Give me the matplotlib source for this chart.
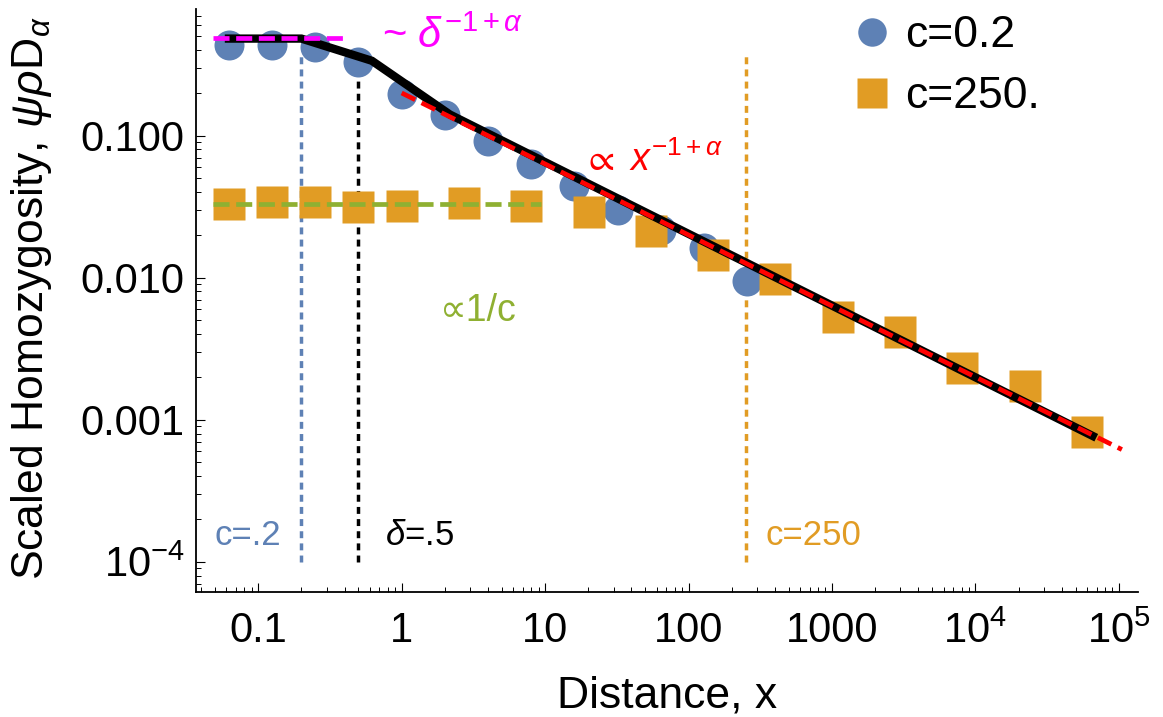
import matplotlib
matplotlib.use("Agg")
import matplotlib.pyplot as plt
from matplotlib.lines import Line2D
from matplotlib.ticker import LogLocator, NullFormatter

plt.rcParams["font.family"] = ["Liberation Sans", "DejaVu Sans"]
plt.rcParams["mathtext.fontset"] = "custom"
plt.rcParams["mathtext.rm"] = "Liberation Sans"
plt.rcParams["mathtext.it"] = "Liberation Sans:italic"
plt.rcParams["mathtext.bf"] = "Liberation Sans:bold"
plt.rcParams["mathtext.fallback"] = "stixsans"

# simulation points, c = 0.2
x_c02 = [0.0625, 0.125, 0.25, 0.5, 1, 2, 4, 8, 16, 32, 64, 128, 256]
y_c02 = [0.433, 0.433, 0.419, 0.333, 0.198, 0.141, 0.0912, 0.0635, 0.0440,
         0.0301, 0.0218, 0.0162, 0.00942]

# simulation points, c = 250
x_c250 = [0.0625, 0.125, 0.25, 0.5, 1, 2.718, 7.389, 20.09, 54.60, 148.4,
          403.4, 1096.6, 2981, 8103, 22026, 59874]
y_c250 = [0.0332, 0.0339, 0.0343, 0.0316, 0.0321, 0.0335, 0.0322, 0.0288,
          0.0214, 0.0145, 0.00982, 0.00530, 0.00418, 0.00232, 0.00172, 0.00082]

# theory curve
x_theory = [0.0625, 0.2, 0.62, 2.17, 65536]
y_theory = [0.483, 0.483, 0.337, 0.141, 0.00077]

# asymptotes
x_power = [1, 105000]
y_power = [0.2, 0.000617]
x_short = [0.048, 0.41]
y_short = [0.488, 0.488]
x_flat = [0.048, 9.3]
y_flat = [0.0332, 0.0332]

# vertical markers
v_lines = [0.2, 0.5, 250]
v_colors = ["#5E81B5", "black", "#E19C24"]
v_bottom, v_top = 1e-4, 0.39

xticks = [0.1, 1, 10, 100, 1000, 1e4, 1e5]
xticklabels = ["0.1", "1", "10", "100", "1000", "$10^4$", "$10^5$"]
yticks = [1e-4, 1e-3, 1e-2, 1e-1]
yticklabels = ["$10^{-4}$", "0.001", "0.010", "0.100"]

blue = "#5E81B5"
orange = "#E19C24"
green = "#8FB032"

fig = plt.figure(figsize=(11.63, 7.17), dpi=100)
ax = fig.add_axes([0.1685, 0.1747, 0.81, 0.8127])
ax.set_xscale("log")
ax.set_yscale("log")
ax.set_xlim(0.0368, 1.36e5)
ax.set_ylim(6.15e-5, 0.78)

for xv, col in zip(v_lines, v_colors):
    ax.plot([xv, xv], [v_bottom, v_top], color=col, lw=2.5,
            dashes=(2.0, 1.5), zorder=1)

ax.plot(x_c02, y_c02, "o", ms=21.6, color=blue, mec="none", zorder=2)
ax.plot(x_c250, y_c250, "s", ms=22.5, color=orange, mec="none", zorder=3)

ax.plot(x_theory, y_theory, color="black", lw=6.0, zorder=4,
        solid_joinstyle="miter")
ax.plot(x_power, y_power, color="red", lw=3.4, dashes=(3.2, 1.5), zorder=5)
ax.plot(x_short, y_short, color="magenta", lw=3.4, dashes=(3.4, 1.4), zorder=5)
ax.plot(x_flat, y_flat, color=green, lw=3.4, dashes=(3.4, 1.4), zorder=5)

ax.text(0.73, 0.5, r"~ $\delta^{-1+\alpha}$", color="magenta", fontsize=30,
        ha="left", va="center")
ax.text(18.0, 0.0667, r"$\propto\ x^{-1+\alpha}$", color="red", fontsize=27,
        ha="left", va="center")
ax.text(3.4, 0.00586, "∝1/c", color=green, fontsize=27,
        ha="center", va="center")
ax.text(0.0848, 1.54e-4, "c=.2", color=blue, fontsize=25,
        ha="center", va="center")
ax.text(0.764, 1.54e-4, r"$\delta$=.5", color="black", fontsize=25,
        ha="left", va="center")
ax.text(346, 1.54e-4, "c=250", color=orange, fontsize=25,
        ha="left", va="center")

# axes styling
for side in ["top", "right"]:
    ax.spines[side].set_visible(False)
for side in ["left", "bottom"]:
    ax.spines[side].set_linewidth(1.3)

ax.set_xticks(xticks)
ax.set_xticklabels(xticklabels)
ax.set_yticks(yticks)
ax.set_yticklabels(yticklabels)
ax.xaxis.set_minor_locator(LogLocator(base=10, subs=range(2, 10), numticks=20))
ax.yaxis.set_minor_locator(LogLocator(base=10, subs=range(2, 10), numticks=20))
ax.xaxis.set_minor_formatter(NullFormatter())
ax.yaxis.set_minor_formatter(NullFormatter())
ax.tick_params(which="major", direction="in", length=6.5, width=0.8,
               labelsize=30)
ax.tick_params(which="minor", direction="in", length=3.6, width=0.7)
ax.tick_params(axis="x", which="major", pad=14)
ax.tick_params(axis="y", which="major", pad=8)

fig.text(0.574, 0.013, "Distance, x", fontsize=32, ha="center", va="baseline")
fig.text(0.0275, 0.5837, r"Scaled Homozygosity, $\psi\rho\mathrm{D}_\alpha$",
         fontsize=32, rotation=90, ha="center", va="center")

handles = [
    Line2D([], [], ls="none", marker="o", ms=20.5, color=blue, mec="none"),
    Line2D([], [], ls="none", marker="s", ms=21.5, color=orange, mec="none"),
]
ax.legend(handles, ["c=0.2", "c=250."], loc="upper left",
          bbox_to_anchor=(0.736, 0.979), bbox_transform=fig.transFigure,
          frameon=False, fontsize=32, handlelength=0.7, handletextpad=0.4,
          borderpad=0, borderaxespad=0, labelspacing=0.45, numpoints=1)

fig.savefig("out.png", dpi=100)
